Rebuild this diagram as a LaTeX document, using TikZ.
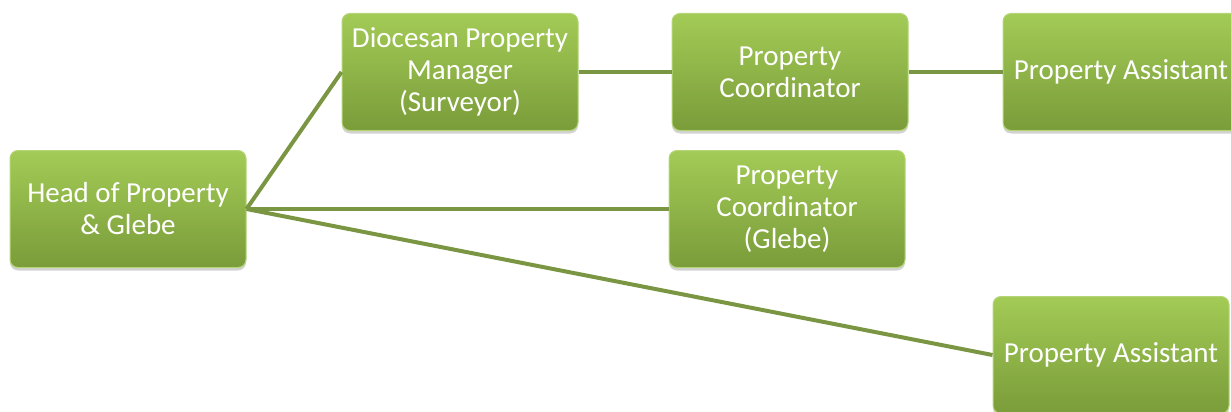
\documentclass[tikz,border=0pt]{standalone}
\usepackage{fontspec}
\setmainfont{Carlito}
\usetikzlibrary{shadows}

\begin{document}
\begin{tikzpicture}[
    x=1pt, y=-1pt,
    box/.style={rectangle, rounded corners=8pt, minimum width=236pt, minimum height=117pt,
        top color=boxtop, bottom color=boxbottom, draw=boxedge, line width=1pt,
        text=white, align=center, font=\fontsize{29}{32}\selectfont, inner sep=1pt,
        drop shadow={shadow xshift=0pt, shadow yshift=-3pt, opacity=0.35, fill=gray}},
    link/.style={draw=linkgreen, line width=4pt}
]
    \definecolor{boxtop}{RGB}{163,203,86}
    \definecolor{boxbottom}{RGB}{122,156,58}
    \definecolor{boxedge}{RGB}{180,214,118}
    \definecolor{linkgreen}{RGB}{122,150,66}

    \useasboundingbox (0,0) rectangle (1231,412);

    % nodes
    \node[box] (head) at (128, 209) {Head of Property\\ \& Glebe};
    \node[box] (dpm)  at (460, 72)  {Diocesan Property\\ Manager\\ (Surveyor)};
    \node[box] (pcA)  at (790, 72)  {Property\\ Coordinator};
    \node[box] (paA)  at (1121, 72) {Property Assistant};
    \node[box] (pcB)  at (787, 209) {Property\\ Coordinator\\ (Glebe)};
    \node[box] (paB)  at (1111, 355) {Property Assistant};

    % connectors
    \draw[link] (head.east) -- (dpm.west);
    \draw[link] (head.east) -- (pcB.west);
    \draw[link] (head.east) -- (paB.west);
    \draw[link] (dpm.east) -- (pcA.west);
    \draw[link] (pcA.east) -- (paA.west);
\end{tikzpicture}
\end{document}
